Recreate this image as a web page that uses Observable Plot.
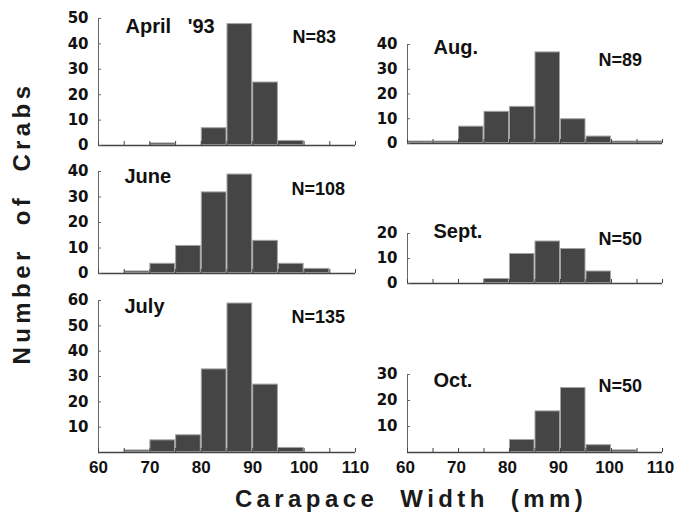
<!DOCTYPE html>
<html><head><meta charset="utf-8">
<script src="https://cdn.jsdelivr.net/npm/d3@7"></script>
<script src="https://cdn.jsdelivr.net/npm/@observablehq/plot@0.6"></script>
<style>
body{margin:0;background:#fff;}
#chart{position:relative;width:675px;height:517px;background:#fff;overflow:hidden;}
.panel{position:absolute;}
.axt{position:absolute;font-family:"Liberation Sans",Arial,sans-serif;font-weight:bold;font-size:24px;letter-spacing:4.4px;white-space:pre;color:#1a1a1a;line-height:1;}
</style></head><body><div id="chart"></div>
<script>
// ---- data ----
const binStart = [60, 65, 70, 75, 80, 85, 90, 95, 100, 105];
const binWidth = 5;
const april = [0, 0, 1, 0, 7, 48, 25, 2, 0, 0];
const june  = [0, 1, 4, 11, 32, 39, 13, 4, 2, 0];
const july  = [0, 1, 5, 7, 33, 59, 27, 2, 0, 0];
const aug   = [1, 1, 7, 13, 15, 37, 10, 3, 1, 1];
const sept  = [0, 0, 0, 2, 12, 17, 14, 5, 0, 0];
const oct   = [0, 0, 0, 0, 5, 16, 25, 3, 1, 0];
const monthTitles = ["April   '93", "June", "July", "Aug.", "Sept.", "Oct."];
const sampleSizes = [83, 108, 135, 89, 50, 50];
const xTickLabels = [60, 70, 80, 90, 100, 110];
const xMinorTicks = [60, 65, 70, 75, 80, 85, 90, 95, 100, 105, 110];
const yTicksApril = [0, 10, 20, 30, 40, 50];
const yTicksJune  = [0, 10, 20, 30, 40];
const yTicksJuly  = [10, 20, 30, 40, 50, 60];
const yTicksAug   = [0, 10, 20, 30, 40];
const yTicksSept  = [0, 10, 20];
const yTicksOct   = [10, 20, 30];
const yMax = [50, 40, 60, 40, 20, 30];
const xLabel = "Carapace  Width  (mm)";
const yLabel = "Number  of  Crabs";

// ---- layout (pixels) ----
const layouts = [
  {x60: 98,  x110: 355, yTop: 18,  y0: 145, xLabels: false, tx: 125, tb: 32,  nx: 292, nb: 42},
  {x60: 98,  x110: 355, yTop: 171, y0: 273, xLabels: false, tx: 124, tb: 182, nx: 291, nb: 194},
  {x60: 98,  x110: 355, yTop: 300, y0: 452, xLabels: true,  tx: 124, tb: 312, nx: 291, nb: 322, ldx: 0},
  {x60: 407, x110: 662, yTop: 44,  y0: 143, xLabels: false, tx: 433, tb: 53,  nx: 598, nb: 65},
  {x60: 407, x110: 662, yTop: 233, y0: 283, xLabels: false, tx: 433, tb: 237, nx: 598, nb: 244},
  {x60: 407, x110: 662, yTop: 374, y0: 452, xLabels: true,  tx: 433, tb: 386, nx: 598, nb: 391, ldx: -2}
];
const series = [april, june, july, aug, sept, oct];
const yTickSets = [yTicksApril, yTicksJune, yTicksJuly, yTicksAug, yTicksSept, yTicksOct];

const chart = document.getElementById("chart");

function panel(counts, yTicks, ymax, title, n, L) {
  const mt = 12, mb = L.xLabels ? 34 : 8, ml = 48, mr = 16;
  const fw = L.x110 - L.x60, fh = L.y0 - L.yTop;
  const data = binStart.map((b, i) => ({lo: b, hi: b + binWidth, count: counts[i]})).filter(d => d.count > 0);
  const marks = [
    Plot.rect(data, {x1: "lo", x2: "hi", y1: 0, y2: "count", fill: "#454545", stroke: "#a3a3a3", strokeWidth: 1, inset: 0.5}),
    Plot.ruleX([60], {y1: 0, y2: ymax, stroke: "#666", strokeWidth: 1}),
    Plot.ruleY([0], {stroke: "#444", strokeWidth: 1.6}),
    Plot.axisY({ticks: yTicks, tickSize: -3, tickPadding: 13, fontSize: 15, stroke: "#666", fill: "#111"}),
    Plot.axisX({ticks: xMinorTicks, tickSize: -4, tickFormat: () => "", stroke: "#444"})
  ];
  if (L.xLabels) marks.push(Plot.axisX({ticks: xTickLabels, tickSize: 0, tickPadding: 8, fontSize: 17,
    fontFamily: "Liberation Sans", dx: L.ldx, fill: "#111"}));
  marks.push(Plot.text([title], {text: d => d, frameAnchor: "top-left", dx: L.tx - L.x60, dy: L.tb - L.yTop,
    lineAnchor: "bottom", textAnchor: "start", fontSize: 20, fontFamily: "Liberation Sans", fontWeight: "bold", fill: "#111"}));
  marks.push(Plot.text(["N=" + n], {text: d => d, frameAnchor: "top-left", dx: L.nx - L.x60, dy: L.nb - L.yTop,
    lineAnchor: "bottom", textAnchor: "start", fontSize: 18, fontFamily: "Liberation Sans", fontWeight: "bold", fill: "#111"}));
  const fig = Plot.plot({
    width: ml + fw + mr, height: mt + fh + mb,
    marginLeft: ml, marginRight: mr, marginTop: mt, marginBottom: mb,
    x: {domain: [60, 110], label: null},
    y: {domain: [0, ymax], label: null},
    style: {fontFamily: "DejaVu Sans", fontWeight: "bold", background: "transparent", overflow: "visible", color: "#111", whiteSpace: "pre"},
    marks
  });
  fig.classList.add("panel");
  fig.style.left = (L.x60 - ml) + "px";
  fig.style.top = (L.yTop - mt) + "px";
  chart.appendChild(fig);
}

series.forEach((s, i) => panel(s, yTickSets[i], yMax[i], monthTitles[i], sampleSizes[i], layouts[i]));

const xt = document.createElement("div");
xt.className = "axt";
xt.textContent = xLabel;
xt.style.left = "411px"; xt.style.top = "487px"; xt.style.transform = "translateX(-50%)";
chart.appendChild(xt);

const yt = document.createElement("div");
yt.className = "axt";
yt.textContent = yLabel;
yt.style.left = "22px"; yt.style.top = "223px";
yt.style.transform = "translate(-50%,-50%) rotate(-90deg)";
chart.appendChild(yt);
</script></body></html>
